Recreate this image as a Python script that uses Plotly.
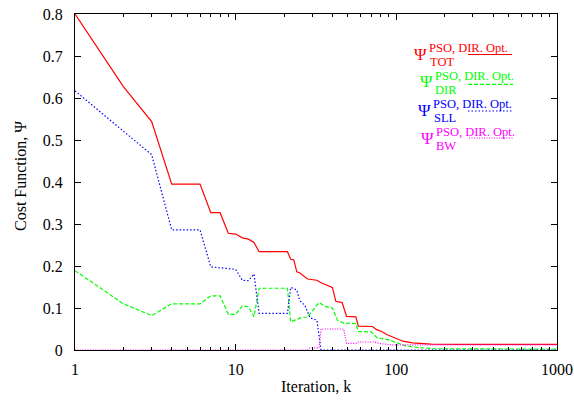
import plotly.graph_objects as go

# ---------------- data ----------------
tot_k = [1, 2, 3, 4, 6, 7, 8, 9, 10, 11, 12, 13, 14, 21, 22, 23, 24, 25, 28, 32, 34, 37, 40,
         42, 46, 49, 56, 58, 71, 75, 81, 87, 95, 104, 110, 126, 165, 250, 1000]
tot_v = [0.800, 0.627, 0.544, 0.395, 0.395, 0.327, 0.327, 0.278, 0.276, 0.267, 0.264, 0.256,
         0.234, 0.234, 0.216, 0.215, 0.186, 0.184, 0.169, 0.166, 0.160, 0.155, 0.149,
         0.116, 0.113, 0.080, 0.079, 0.057, 0.056, 0.049, 0.044, 0.037, 0.031, 0.025,
         0.021, 0.017, 0.014, 0.0135, 0.0135]

dir_k = [1, 2, 3, 4, 6, 7, 8, 9, 10, 11, 12, 13, 14, 21, 22, 24, 26, 28, 31, 33, 36, 40, 43,
         47, 56, 58, 70, 76, 90, 99, 114, 139, 175, 1000]
dir_v = [0.189, 0.110, 0.082, 0.110, 0.110, 0.129, 0.129, 0.085, 0.085, 0.105, 0.103, 0.079,
         0.147, 0.147, 0.067, 0.073, 0.078, 0.078, 0.100, 0.113, 0.104, 0.100, 0.071,
         0.064, 0.063, 0.044, 0.043, 0.029, 0.024, 0.018, 0.010, 0.0055, 0.003, 0.002]

sll_k = [1, 2, 3, 4, 6, 7, 8, 9, 10, 11, 12, 13, 14, 21, 22, 24, 25, 27, 29, 32, 34, 1000]
sll_v = [0.617, 0.520, 0.465, 0.286, 0.286, 0.198, 0.196, 0.194, 0.192, 0.166, 0.165, 0.181,
         0.087, 0.087, 0.149, 0.143, 0.118, 0.106, 0.077, 0.071, 0.0, 0.0]

bw_k = [1, 28, 29, 33, 34, 47, 49, 57, 58, 72, 80, 95, 1000]
bw_v = [0.0, 0.0, 0.005, 0.005, 0.050, 0.050, 0.016, 0.016, 0.019, 0.019, 0.015, 0.012, 0.012]

x_tickvals = [1, 10, 100, 1000]
x_ticktext = ["1", "10", "100", "1000"]
y_tickvals = [0, 0.1, 0.2, 0.3, 0.4, 0.5, 0.6, 0.7, 0.8]
y_ticktext = ["0", "0.1", "0.2", "0.3", "0.4", "0.5", "0.6", "0.7", "0.8"]
x_minor = [m * d for d in (1, 10, 100) for m in range(2, 10)]

legend_subs = ["TOT", "DIR", "SLL", "BW"]
legend_sup = "PSO, DIR. Opt."

RED, GREEN, BLUE, MAG = "#ff0000", "#00ff00", "#0000ff", "#ff00ff"
FONT = "Liberation Serif"

# ---------------- figure ----------------
W, H = 574, 403
L, R, T, B = 75, 17, 14, 53
PW, PH = W - L - R, H - T - B

fig = go.Figure()
series = [
    (tot_k, tot_v, RED, "solid"),
    (dir_k, dir_v, GREEN, "4px,2px"),
    (sll_k, sll_v, BLUE, "1.5px,2px"),
    (bw_k, bw_v, MAG, "1px,1.5px"),
]
for k, v, c, d in series:
    fig.add_trace(go.Scatter(x=k, y=v, mode="lines",
                             line=dict(color=c, width=1.2, dash=d),
                             showlegend=False, cliponaxis=True))


def px2paper(px, py):
    return (px - L) / PW, (H - B - py) / PH


# legend built with annotations
leg = [
    # color, psi_y, sup_left, sup_y, sub_left, sub_y, line_x0, line_x1, line_y, dash
    (RED, 54, 428, 48, 429, 62, 468, 512, 54.5, "solid"),
    (GREEN, 82, 434, 76, 434, 90, 468, 513, 84.3, "4px,2px"),
    (BLUE, 110, 432, 104, 433, 118, 468, 512, 111, "1.5px,2px"),
    (MAG, 138, 435, 132, 435, 146, 469, 513, 138, "1px,1.5px"),
]
for (c, psy, spx, spy, sbx, sby, lx0, lx1, ly, d), sub in zip(leg, legend_subs):
    x, y = px2paper(spx, psy)
    fig.add_annotation(x=x, y=y, xref="paper", yref="paper", text="Ψ", showarrow=False,
                       xanchor="right", yanchor="middle", borderpad=0,
                       font=dict(family=FONT, size=17, color=c))
    x, y = px2paper(spx, spy)
    fig.add_annotation(x=x, y=y, xref="paper", yref="paper", text=legend_sup, showarrow=False,
                       xanchor="left", yanchor="middle", borderpad=0,
                       font=dict(family=FONT, size=12.5, color=c))
    x, y = px2paper(sbx, sby)
    fig.add_annotation(x=x, y=y, xref="paper", yref="paper", text=sub, showarrow=False,
                       xanchor="left", yanchor="middle", borderpad=0,
                       font=dict(family=FONT, size=12.5, color=c))
    x0, y0 = px2paper(lx0, ly)
    x1, _ = px2paper(lx1, ly)
    fig.add_shape(type="line", xref="paper", yref="paper", x0=x0, x1=x1, y0=y0, y1=y0,
                  line=dict(color=c, width=1.2, dash=d))

# axis titles
fig.add_annotation(x=0.5, y=px2paper(0, 386)[1], xref="paper", yref="paper",
                   text="Iteration, k", showarrow=False, yanchor="middle",
                   font=dict(family=FONT, size=16, color="black"))
fig.add_annotation(x=px2paper(21, 0)[0], y=px2paper(0, 176)[1], xref="paper", yref="paper",
                   text="Cost Function, Ψ", showarrow=False, textangle=-90,
                   xanchor="center", yanchor="middle",
                   font=dict(family=FONT, size=16, color="black"))

axis_common = dict(showline=True, linecolor="black", linewidth=1, mirror="allticks",
                   ticks="inside", ticklen=6, tickcolor="black", tickwidth=1,
                   showgrid=False, zeroline=False,
                   tickfont=dict(family=FONT, size=16, color="black"))

fig.update_xaxes(type="log", range=[0, 3], tickmode="array",
                 tickvals=x_tickvals, ticktext=x_ticktext,
                 minor=dict(tickmode="array", tickvals=x_minor, ticks="inside",
                            ticklen=3, tickcolor="black", showgrid=False),
                 ticklabelstandoff=5,
                 **axis_common)
fig.update_yaxes(range=[0, 0.8], tickmode="array",
                 tickvals=y_tickvals, ticktext=y_ticktext,
                 ticklabelstandoff=8,
                 **axis_common)

fig.update_layout(width=W, height=H, margin=dict(l=L, r=R, t=T, b=B, autoexpand=False),
                  plot_bgcolor="white", paper_bgcolor="white",
                  font=dict(family=FONT, color="black"))

fig.write_html("out.html")
